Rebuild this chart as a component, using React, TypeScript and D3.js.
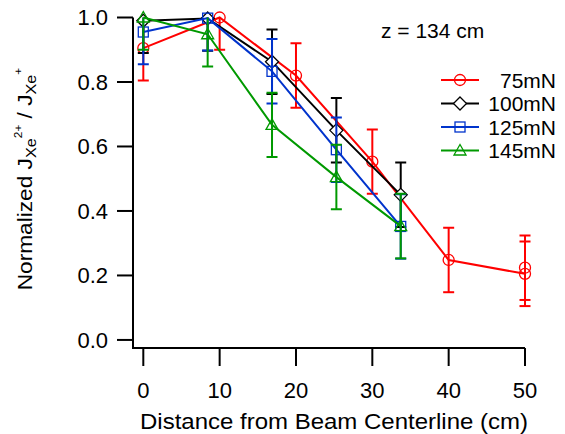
import React from "react";
import * as d3 from "d3";

const W = 565;
const H = 434;

const xTicks = [0, 10, 20, 30, 40, 50];
const yTicks = [0, 0.2, 0.4, 0.6, 0.8, 1.0];

const redX = [0, 10, 20, 30, 40, 50, 50];
const redY = [0.905, 1.0, 0.82, 0.553, 0.248, 0.205, 0.224];
const redErr = [0.1, 0.1, 0.1, 0.1, 0.1, 0.1, 0.1];

const offX = [0, 8.43, 16.86, 25.29, 33.72];
const blackY = [0.99, 0.997, 0.863, 0.65, 0.45];
const blackErr = [0.1, 0.1, 0.1, 0.1, 0.1];
const blueY = [0.955, 0.998, 0.833, 0.59, 0.352];
const blueErr = [0.1, 0.1, 0.1, 0.1, 0.1];
const greenY = [1.0, 0.948, 0.667, 0.505, 0.353];
const greenErr = [0.1, 0.1, 0.1, 0.1, 0.1];

const seriesNames = ["75mN", "100mN", "125mN", "145mN"];
const seriesColors = ["#ff0000", "#000000", "#0033cc", "#009900"];
const seriesMarkers = ["circle", "diamond", "square", "triangle"];

const FONT = "'Liberation Sans', Arial, Helvetica, sans-serif";

function Marker({ type, cx, cy, color }: { type: string; cx: number; cy: number; color: string }) {
  const sw = 1.3;
  if (type === "circle") return <circle cx={cx} cy={cy} r={5.5} fill="none" stroke={color} strokeWidth={sw} />;
  if (type === "square") return <rect x={cx - 5} y={cy - 5} width={10} height={10} fill="none" stroke={color} strokeWidth={sw} />;
  if (type === "diamond") {
    const r = 6.5;
    return <path d={`M${cx},${cy - r}L${cx + r},${cy}L${cx},${cy + r}L${cx - r},${cy}Z`} fill="#fff" stroke={color} strokeWidth={sw} />;
  }
  const s = 6;
  return <path d={`M${cx},${cy - s}L${cx + s},${cy + s * 0.75}L${cx - s},${cy + s * 0.75}Z`} fill="none" stroke={color} strokeWidth={sw} />;
}

export default function App() {
  const x = d3.scaleLinear().domain([-1.35, 50]).range([133, 525]);
  const y = d3.scaleLinear().domain([-0.025, 1.0]).range([348, 17.5]);

  const series = [
    { xs: redX, ys: redY, es: redErr },
    { xs: offX, ys: blackY, es: blackErr },
    { xs: offX, ys: blueY, es: blueErr },
    { xs: offX, ys: greenY, es: greenErr },
  ];

  const line = d3
    .line<[number, number]>()
    .x((d) => x(d[0]))
    .y((d) => y(d[1]));

  const legendY = [80, 103.5, 127, 150.5];

  return (
    <svg width={W} height={H} style={{ position: "absolute", left: 0, top: 0, background: "#fff" }} fontFamily={FONT}>
      <defs>
        <clipPath id="errclip">
          <rect x={0} y={y(1.0)} width={W} height={H} />
        </clipPath>
      </defs>
      {/* axes */}
      <line x1={133} x2={133} y1={y(1.0)} y2={348} stroke="#000" strokeWidth={2} />
      <line x1={132} x2={525} y1={348} y2={348} stroke="#000" strokeWidth={2} />
      {yTicks.map((t) => (
        <g key={"y" + t}>
          <line x1={117} x2={133} y1={y(t)} y2={y(t)} stroke="#000" strokeWidth={2} />
          <text x={108} y={y(t)} dy="0.36em" textAnchor="end" fontSize={22}>
            {t.toFixed(1)}
          </text>
        </g>
      ))}
      {xTicks.map((t) => (
        <g key={"x" + t}>
          <line x1={x(t)} x2={x(t)} y1={348} y2={366} stroke="#000" strokeWidth={2} />
          <text x={x(t)} y={398} textAnchor="middle" fontSize={22}>
            {t}
          </text>
        </g>
      ))}
      <text x={334} y={429} textAnchor="middle" fontSize={21.5} textLength={388} lengthAdjust="spacingAndGlyphs">
        Distance from Beam Centerline (cm)
      </text>
      <text transform="translate(32,179) rotate(-90) scale(1.08,1)" textAnchor="middle" fontSize={21}>
        Normalized J
        <tspan fontSize={15} dy={4}>Xe</tspan>
        <tspan fontSize={11} dy={-14}>2+</tspan>
        <tspan fontSize={21} dy={10}> / J</tspan>
        <tspan fontSize={15} dy={4}>Xe</tspan>
        <tspan fontSize={11} dy={-14}>+</tspan>
      </text>

      {/* data */}
      {series.map((s, i) => {
        const pts = s.xs.map((xv, j) => [xv, s.ys[j]] as [number, number]);
        const c = seriesColors[i];
        return (
          <g key={"s" + i}>
            <path d={line(pts) || ""} fill="none" stroke={c} strokeWidth={2} />
            <g clipPath="url(#errclip)">
              {pts.map((p, j) => {
                const px = x(p[0]);
                const y1 = y(p[1] + s.es[j]);
                const y2 = y(p[1] - s.es[j]);
                return (
                  <g key={j}>
                    <line x1={px} x2={px} y1={y1} y2={y2} stroke={c} strokeWidth={2} />
                    <line x1={px - 5.5} x2={px + 5.5} y1={y1} y2={y1} stroke={c} strokeWidth={2} />
                    <line x1={px - 5.5} x2={px + 5.5} y1={y2} y2={y2} stroke={c} strokeWidth={2} />
                  </g>
                );
              })}
            </g>
            {pts.map((p, j) => (
              <Marker key={"m" + j} type={seriesMarkers[i]} cx={x(p[0])} cy={y(p[1])} color={c} />
            ))}
          </g>
        );
      })}

      {/* annotation & legend */}
      <text x={381} y={38} fontSize={21}>
        z = 134 cm
      </text>
      {seriesNames.map((n, i) => (
        <g key={"l" + i}>
          <line x1={441} x2={479} y1={legendY[i]} y2={legendY[i]} stroke={seriesColors[i]} strokeWidth={2} />
          <Marker type={seriesMarkers[i]} cx={460} cy={legendY[i]} color={seriesColors[i]} />
          <text x={556} y={legendY[i]} dy="0.36em" textAnchor="end" fontSize={21}>
            {n}
          </text>
        </g>
      ))}
    </svg>
  );
}
